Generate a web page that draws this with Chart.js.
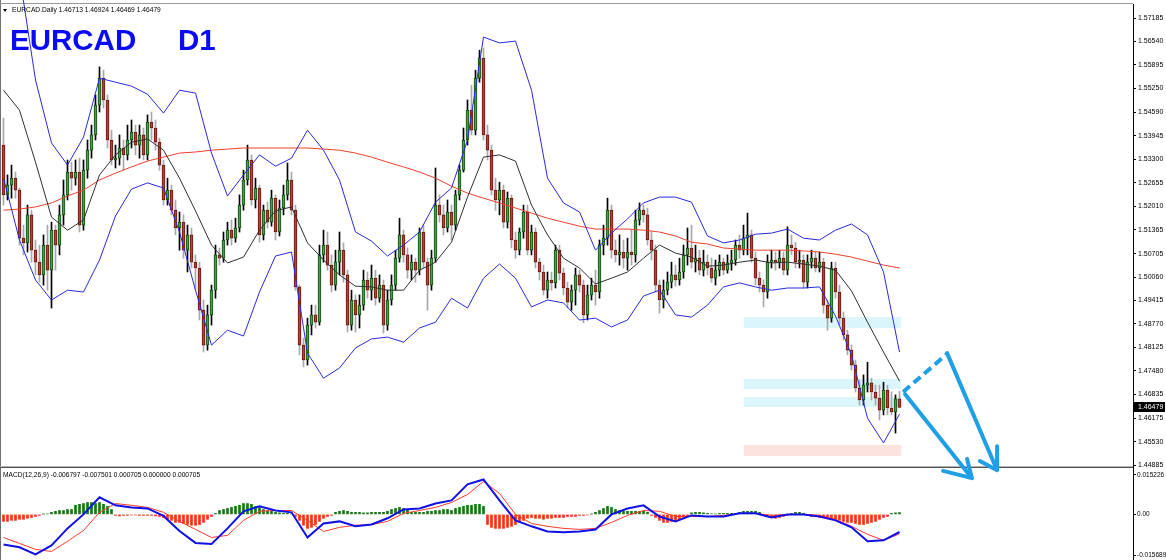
<!DOCTYPE html>
<html><head><meta charset="utf-8">
<script src="https://cdn.jsdelivr.net/npm/chart.js@4.4.1/dist/chart.umd.min.js"></script>
<style>
html,body{margin:0;padding:0;background:#fff;}
#wrap{position:relative;width:1166px;height:560px;overflow:hidden;background:#fff;}
#c{position:absolute;left:0;top:0;}
.t{position:absolute;white-space:nowrap;font-family:"Liberation Sans",Arial,sans-serif;color:#000;line-height:1;transform-origin:0 0;}
.title{font-weight:bold;color:#0a0af5;font-size:29.5px;top:25px;}
#tri{position:absolute;left:3px;top:9px;width:0;height:0;border-left:2.5px solid transparent;border-right:2.5px solid transparent;border-top:3px solid #000;}
</style></head><body>
<div id="wrap">
<canvas id="c" width="1166" height="560"></canvas>
<div id="tri"></div>
<div class="t" id="hdr" style="left:12px;top:6.3px;font-size:7.5px;transform:scaleX(0.89)"></div>
<div class="t title" style="left:10px">EURCAD</div>
<div class="t title" style="left:178px">D1</div>
<div class="t" id="macdLbl" style="left:3px;top:471px;font-size:7.5px;transform:scaleX(0.88)"></div>
</div>
<script>
const symbolName = 'EURCAD.Daily';
const priceTicks = [1.57185,1.56540,1.55895,1.55250,1.54590,1.53945,1.53300,1.52655,1.52010,1.51365,1.50705,1.50060,1.49415,1.48770,1.48125,1.47480,1.46835,1.46175,1.45530,1.44885];
const macdTicks = [0.015226, 0, -0.015689];
const macdTickLabels = ['0.015226','0.00','-0.015689'];

const candleOpen = [1.5369,1.5232,1.5259,1.5278,1.5245,1.5113,1.5100,1.5177,1.5080,1.5047,1.5012,1.5094,1.5025,1.5135,1.5094,1.5177,1.5232,1.5295,1.5278,1.5295,
1.5149,1.5300,1.5355,1.5397,1.5479,1.5553,1.5493,1.5383,1.5328,1.5333,1.5361,1.5342,1.5383,1.5405,1.5369,1.5397,1.5342,1.5432,1.5416,1.5377,
1.5314,1.5218,1.5245,1.5190,1.5141,1.5157,1.5080,1.5122,1.5047,1.5031,1.4915,1.4819,1.4902,1.4970,1.5067,1.5058,1.5108,1.5135,1.5113,1.5141,
1.5204,1.5273,1.5328,1.5218,1.5251,1.5122,1.5190,1.5157,1.5223,1.5130,1.5196,1.5232,1.5273,1.5190,1.4979,1.4819,1.4778,1.4874,1.4902,1.4882,
1.5067,1.5094,1.5039,1.4984,1.5047,1.5080,1.5012,1.4874,1.4943,1.4902,1.4929,1.4998,1.4970,1.5003,1.4948,1.4984,1.4874,1.4943,1.4984,1.5058,
1.5122,1.5067,1.5025,1.5047,1.5025,1.5130,1.5047,1.4984,1.5058,1.5204,1.5177,1.5141,1.5185,1.5149,1.5232,1.5300,1.5383,1.5465,1.5410,1.5553,
1.5608,1.5397,1.5355,1.5245,1.5218,1.5245,1.5157,1.5223,1.5108,1.5080,1.5130,1.5185,1.5080,1.5130,1.5047,1.5020,1.4970,1.4998,1.4990,1.5080,
1.5017,1.4976,1.4937,1.4970,1.5012,1.4984,1.4902,1.4957,1.4984,1.4965,1.5094,1.5113,1.5190,1.5080,1.5067,1.5075,1.5058,1.5075,1.5067,1.5163,
1.5190,1.5177,1.5108,1.5080,1.4984,1.4943,1.4970,1.4992,1.5012,1.4998,1.5020,1.5067,1.5086,1.5047,1.5058,1.5025,1.5047,1.5031,1.5003,1.5025,
1.5047,1.5025,1.5045,1.5053,1.5094,1.5080,1.5113,1.5122,1.5058,1.5003,1.4984,1.4965,1.5047,1.5053,1.5047,1.5058,1.5025,1.5094,1.5086,1.5047,
1.5053,1.4992,1.5047,1.5058,1.5031,1.5047,1.4929,1.4893,1.5031,1.4965,1.4893,1.4847,1.4805,1.4764,1.4701,1.4668,1.4709,1.4715,1.4690,1.4673,
1.4640,1.4695,1.4646,1.4635,1.46713];
const candleHigh = [1.5443,1.5287,1.5314,1.5295,1.5251,1.5149,1.5204,1.5190,1.5108,1.5094,1.5122,1.5149,1.5157,1.5149,1.5204,1.5273,1.5328,1.5322,1.5328,1.5333,
1.5328,1.5383,1.5424,1.5507,1.5584,1.5575,1.5507,1.5410,1.5369,1.5397,1.5383,1.5424,1.5438,1.5424,1.5424,1.5416,1.5452,1.5460,1.5438,1.5388,
1.5328,1.5278,1.5259,1.5218,1.5185,1.5177,1.5149,1.5141,1.5067,1.5047,1.4943,1.4929,1.4984,1.5094,1.5086,1.5130,1.5157,1.5163,1.5168,1.5232,
1.5300,1.5369,1.5342,1.5278,1.5259,1.5204,1.5212,1.5245,1.5232,1.5218,1.5259,1.5320,1.5295,1.5204,1.4984,1.4838,1.4893,1.4929,1.4929,1.5094,
1.5135,1.5130,1.5067,1.5080,1.5130,1.5100,1.5025,1.4970,1.4957,1.4957,1.5025,1.5020,1.5039,1.5025,1.5012,1.4998,1.4970,1.5012,1.5080,1.5168,
1.5135,1.5086,1.5067,1.5058,1.5141,1.5149,1.5058,1.5080,1.5306,1.5232,1.5204,1.5218,1.5204,1.5245,1.5314,1.5416,1.5493,1.5534,1.5575,1.5630,
1.5636,1.5424,1.5369,1.5278,1.5267,1.5259,1.5240,1.5232,1.5130,1.5141,1.5204,1.5204,1.5149,1.5141,1.5058,1.5039,1.5020,1.5020,1.5094,1.5094,
1.5031,1.4992,1.4984,1.5031,1.5025,1.4998,1.4984,1.5003,1.5025,1.5108,1.5149,1.5223,1.5204,1.5108,1.5122,1.5108,1.5113,1.5135,1.5190,1.5210,
1.5204,1.5196,1.5130,1.5094,1.4998,1.4998,1.5020,1.5047,1.5039,1.5058,1.5094,1.5141,1.5149,1.5094,1.5080,1.5080,1.5067,1.5058,1.5053,1.5067,
1.5058,1.5067,1.5080,1.5108,1.5122,1.5149,1.5182,1.5135,1.5075,1.5020,1.4998,1.5067,1.5080,1.5075,1.5080,1.5075,1.5144,1.5122,1.5102,1.5080,
1.5067,1.5067,1.5080,1.5075,1.5075,1.5058,1.4943,1.5047,1.5047,1.4984,1.4910,1.4860,1.4819,1.4778,1.4723,1.4737,1.4772,1.4728,1.4709,1.4709,
1.4717,1.4709,1.4690,1.4682,1.46924];
const candleLow = [1.5204,1.5218,1.5223,1.5223,1.5094,1.5067,1.5075,1.5047,1.5012,1.4992,1.4984,1.4970,1.4921,1.5025,1.5067,1.5149,1.5218,1.5245,1.5259,1.5130,
1.5135,1.5278,1.5333,1.5383,1.5460,1.5471,1.5361,1.5314,1.5306,1.5314,1.5300,1.5328,1.5361,1.5342,1.5333,1.5328,1.5328,1.5383,1.5355,1.5300,
1.5204,1.5204,1.5177,1.5122,1.5080,1.5058,1.5020,1.5031,1.4970,1.4888,1.4800,1.4805,1.4874,1.4948,1.5039,1.5047,1.5094,1.5094,1.5102,1.5130,
1.5190,1.5259,1.5204,1.5196,1.5102,1.5108,1.5141,1.5146,1.5108,1.5119,1.5177,1.5218,1.5177,1.4970,1.4792,1.4759,1.4764,1.4847,1.4866,1.4874,
1.5047,1.5025,1.4965,1.4970,1.5012,1.4992,1.4855,1.4860,1.4855,1.4866,1.4915,1.4948,1.4943,1.4929,1.4937,1.4852,1.4860,1.4929,1.4970,1.5047,
1.5047,1.5003,1.4998,1.4992,1.5012,1.5031,1.4915,1.4970,1.5047,1.5157,1.5122,1.5130,1.5108,1.5135,1.5218,1.5295,1.5369,1.5397,1.5397,1.5542,
1.5383,1.5328,1.5232,1.5190,1.5177,1.5141,1.5141,1.5086,1.5058,1.5067,1.5113,1.5067,1.5067,1.5031,1.4998,1.4957,1.4948,1.4970,1.4976,1.4998,
1.4957,1.4921,1.4915,1.4929,1.4965,1.4880,1.4888,1.4943,1.4929,1.4948,1.5067,1.5094,1.5058,1.5047,1.5039,1.5031,1.5025,1.5039,1.5047,1.5149,
1.5157,1.5094,1.5053,1.4965,1.4907,1.4921,1.4957,1.4976,1.4981,1.4984,1.5003,1.5039,1.5031,1.5020,1.5012,1.5009,1.5012,1.4992,1.4984,1.5009,
1.5012,1.5017,1.5025,1.5039,1.5058,1.5067,1.5067,1.5047,1.4984,1.4965,1.4924,1.4948,1.5031,1.5025,1.5031,1.5012,1.5012,1.5067,1.5031,1.5031,
1.4976,1.4976,1.5031,1.5020,1.5020,1.4907,1.4860,1.4882,1.4948,1.4874,1.4833,1.4792,1.4750,1.4690,1.4654,1.4654,1.4690,1.4668,1.4654,1.4613,
1.4627,1.4627,1.4627,1.4577,1.46469];
const candleClose = [1.5232,1.5259,1.5278,1.5245,1.5113,1.5100,1.5177,1.5080,1.5047,1.5012,1.5094,1.5025,1.5135,1.5094,1.5177,1.5232,1.5295,1.5278,1.5295,1.5149,
1.5300,1.5355,1.5397,1.5479,1.5553,1.5493,1.5383,1.5328,1.5333,1.5361,1.5342,1.5383,1.5405,1.5369,1.5397,1.5342,1.5432,1.5416,1.5377,1.5314,
1.5218,1.5245,1.5190,1.5141,1.5157,1.5080,1.5122,1.5047,1.5031,1.4915,1.4819,1.4902,1.4970,1.5067,1.5058,1.5108,1.5135,1.5113,1.5141,1.5204,
1.5273,1.5328,1.5218,1.5251,1.5122,1.5190,1.5157,1.5223,1.5130,1.5196,1.5232,1.5273,1.5190,1.4979,1.4819,1.4778,1.4874,1.4902,1.4882,1.5067,
1.5094,1.5039,1.4984,1.5047,1.5080,1.5012,1.4874,1.4943,1.4902,1.4929,1.4998,1.4970,1.5003,1.4948,1.4984,1.4874,1.4943,1.4984,1.5058,1.5122,
1.5067,1.5025,1.5047,1.5025,1.5130,1.5047,1.4984,1.5058,1.5204,1.5177,1.5141,1.5185,1.5149,1.5232,1.5300,1.5383,1.5465,1.5410,1.5553,1.5608,
1.5397,1.5355,1.5245,1.5218,1.5245,1.5157,1.5223,1.5108,1.5080,1.5130,1.5185,1.5080,1.5130,1.5047,1.5020,1.4970,1.4998,1.4990,1.5080,1.5017,
1.4976,1.4937,1.4970,1.5012,1.4984,1.4902,1.4957,1.4984,1.4965,1.5094,1.5113,1.5190,1.5080,1.5067,1.5075,1.5058,1.5075,1.5067,1.5163,1.5190,
1.5177,1.5108,1.5080,1.4984,1.4943,1.4970,1.4992,1.5012,1.4998,1.5020,1.5067,1.5086,1.5047,1.5058,1.5025,1.5047,1.5031,1.5003,1.5025,1.5047,
1.5025,1.5045,1.5053,1.5094,1.5080,1.5113,1.5122,1.5058,1.5003,1.4984,1.4965,1.5047,1.5053,1.5047,1.5058,1.5025,1.5094,1.5086,1.5047,1.5053,
1.4992,1.5047,1.5058,1.5031,1.5047,1.4929,1.4893,1.5031,1.4965,1.4893,1.4847,1.4805,1.4764,1.4701,1.4668,1.4709,1.4715,1.4690,1.4673,1.4640,
1.4695,1.4646,1.4635,1.4671,1.46479];

// Bollinger Bands (20) and long moving average, read every 4th bar
const bandUpper = [1.5988,1.5837,1.5548,1.5375,1.5314,1.5391,1.5553,1.5542,1.5531,1.5509,1.5457,1.5520,1.5512,1.5347,1.5229,1.5287,1.5342,1.5311,1.5333,1.5410,
1.5355,1.5273,1.5130,1.5105,1.5064,1.5094,1.5130,1.5212,1.5251,1.5383,1.5666,1.5650,1.5655,1.5520,1.5278,1.5210,1.5185,1.5080,1.5127,1.5166,
1.5210,1.5226,1.5226,1.5212,1.5119,1.5100,1.5108,1.5124,1.5127,1.5138,1.5113,1.5108,1.5135,1.5152,1.5122,1.5020,1.4800];
const bandMiddle = [1.5520,1.5465,1.5322,1.5171,1.5135,1.5163,1.5287,1.5342,1.5377,1.5386,1.5355,1.5278,1.5188,1.5094,1.5045,1.5061,1.5135,1.5188,1.5199,1.5100,
1.5053,1.5012,1.4981,1.4979,1.4970,1.4970,1.5025,1.5047,1.5102,1.5226,1.5336,1.5342,1.5325,1.5204,1.5122,1.5058,1.5031,1.4987,1.5003,1.5020,
1.5058,1.5094,1.5072,1.5061,1.5036,1.5039,1.5047,1.5053,1.5045,1.5047,1.5042,1.5036,1.5025,1.4968,1.4882,1.4800,1.4720];
const bandLower = [1.5278,1.5108,1.4998,1.4943,1.4970,1.4965,1.5053,1.5174,1.5248,1.5265,1.5251,1.5130,1.4970,1.4819,1.4860,1.4844,1.4965,1.5064,1.5075,1.4797,
1.4728,1.4756,1.4811,1.4836,1.4841,1.4827,1.4866,1.4882,1.4948,1.4921,1.5003,1.5042,1.5003,1.4924,1.4943,1.4935,1.4888,1.4893,1.4869,1.4888,
1.4954,1.4970,1.4902,1.4896,1.4929,1.4979,1.4990,1.4979,1.4970,1.4976,1.4976,1.4979,1.4899,1.4792,1.4618,1.4550,1.4629];
const maLong = [1.5190,1.5193,1.5199,1.5210,1.5229,1.5245,1.5273,1.5292,1.5309,1.5325,1.5336,1.5347,1.5350,1.5355,1.5358,1.5361,1.5361,1.5361,1.5361,1.5361,
1.5358,1.5355,1.5347,1.5336,1.5322,1.5309,1.5295,1.5278,1.5256,1.5237,1.5223,1.5210,1.5196,1.5182,1.5168,1.5157,1.5146,1.5138,1.5138,1.5138,
1.5135,1.5130,1.5119,1.5102,1.5097,1.5086,1.5083,1.5080,1.5080,1.5080,1.5078,1.5075,1.5069,1.5061,1.5050,1.5039,1.5031];

// MACD(12,26,9), lines read every 4th bar, histogram per bar
const macdMain = [-0.0116,-0.0127,-0.0154,-0.0120,-0.0054,0.0000,0.0066,0.0035,0.0027,0.0023,-0.0006,-0.0064,-0.0110,-0.0114,-0.0054,0.0012,0.0031,0.0015,0.0008,-0.0089,
-0.0035,-0.0027,-0.0046,-0.0039,-0.0015,0.0019,0.0023,0.0042,0.0054,0.0116,0.0135,0.0054,-0.0023,-0.0046,-0.0066,-0.0069,-0.0066,-0.0058,0.0000,0.0023,
0.0035,-0.0008,-0.0027,-0.0004,-0.0008,-0.0008,0.0004,0.0004,-0.0012,0.0000,0.0000,-0.0008,-0.0023,-0.0050,-0.0104,-0.0100,-0.006797];
const macdSignal = [-0.0089,-0.0112,-0.0135,-0.0143,-0.0104,-0.0062,0.0008,0.0042,0.0035,0.0027,0.0008,-0.0027,-0.0058,-0.0089,-0.0081,-0.0023,0.0012,0.0015,0.0015,-0.0023,
-0.0066,-0.0050,-0.0042,-0.0039,-0.0027,0.0004,0.0015,0.0027,0.0046,0.0077,0.0127,0.0081,0.0000,-0.0035,-0.0046,-0.0054,-0.0058,-0.0054,-0.0031,-0.0004,
0.0015,0.0012,-0.0008,-0.0008,-0.0008,-0.0004,0.0004,0.0004,-0.0004,0.0000,0.0000,-0.0004,-0.0019,-0.0046,-0.0077,-0.0100,-0.007501];
const macdHist = [-0.0027,-0.0027,-0.0023,-0.0023,-0.0019,-0.0019,-0.0015,-0.0012,-0.0008,-0.0004,0.0001,0.0002,0.0008,0.0012,0.0015,0.0015,0.0019,0.0019,0.0035,0.0039,
0.0042,0.0046,0.0046,0.0042,0.0046,0.0039,0.0031,0.0019,-0.0004,-0.0006,-0.0004,-0.0004,-0.0002,-0.0002,-0.0004,-0.0004,-0.0004,-0.0004,-0.0006,-0.0008,
-0.0012,-0.0019,-0.0023,-0.0031,-0.0031,-0.0035,-0.0039,-0.0042,-0.0042,-0.0039,-0.0031,-0.0019,-0.0008,0.0004,0.0015,0.0019,0.0023,0.0027,0.0031,0.0035,
0.0042,0.0042,0.0039,0.0031,0.0027,0.0019,0.0015,0.0012,0.0008,0.0006,0.0004,0.0004,0.0002,-0.0008,-0.0023,-0.0042,-0.0054,-0.0050,-0.0039,-0.0027,
-0.0015,-0.0008,-0.0004,0.0008,0.0012,0.0015,0.0012,0.0008,0.0008,0.0008,0.0006,0.0006,0.0008,0.0008,0.0008,0.0008,0.0012,0.0019,0.0023,0.0027,
0.0023,0.0019,0.0008,0.0008,0.0008,0.0008,0.0012,0.0012,0.0015,0.0015,0.0019,0.0019,0.0015,0.0023,0.0027,0.0031,0.0035,0.0035,0.0039,0.0039,
0.0031,-0.0039,-0.0050,-0.0054,-0.0054,-0.0054,-0.0050,-0.0046,-0.0039,-0.0031,-0.0023,-0.0015,-0.0012,-0.0015,-0.0015,-0.0019,-0.0015,-0.0015,-0.0012,-0.0012,
-0.0012,-0.0008,-0.0008,-0.0008,-0.0004,-0.0004,-0.0002,0.0001,0.0008,0.0015,0.0023,0.0031,0.0027,0.0019,0.0015,0.0012,0.0012,0.0012,0.0012,0.0012,
0.0012,0.0008,-0.0004,-0.0012,-0.0023,-0.0031,-0.0031,-0.0027,-0.0023,-0.0019,-0.0012,-0.0006,0.0006,0.0008,0.0008,0.0006,0.0004,0.0002,0.0002,0.0004,
0.0004,0.0004,0.0004,0.0004,0.0008,0.0012,0.0012,0.0012,0.0012,0.0008,-0.0004,-0.0008,-0.0012,-0.0015,-0.0012,-0.0008,-0.0004,0.0004,0.0008,0.0008,
0.0004,-0.0004,-0.0008,-0.0008,-0.0012,-0.0012,-0.0015,-0.0019,-0.0023,-0.0023,-0.0027,-0.0031,-0.0031,-0.0035,-0.0039,-0.0039,-0.0035,-0.0031,-0.0027,-0.0019,
-0.0012,-0.0008,0.0004,0.0006,0.000705];

// Drawn objects: support / target zones and projected path (bar index, price)
const zoneFrom = 185, zoneTo = 224.5;
const zoneTop = [1.4896, 1.4726, 1.4676, 1.4544];
const zoneBottom = [1.4866, 1.4698, 1.4649, 1.4514];
const dashIdx = [224.9, 235.9];
const dashPrice = [1.4690, 1.4795];
const arrowAIdx = [225.4, 242.1, 234.9, 242.1, 240.9];
const arrowAPrice = [1.4684, 1.4453, 1.4473, 1.4453, 1.4506];
const arrowBIdx = [235.9, 248.4, 244.1, 248.4, 248.4];
const arrowBPrice = [1.4797, 1.4475, 1.4500, 1.4475, 1.4541];

// ---------- build ----------
const n = candleClose.length;
const barIdx = Array.from({length:n}, (_, i) => i);
const lineIdx = Array.from({length:bandUpper.length}, (_, k) => k*4);
const last = n-1;
const f5 = v => v.toFixed(5);
document.getElementById('hdr').textContent = symbolName + '  ' + [candleOpen[last],candleHigh[last],candleLow[last],candleClose[last]].map(f5).join(' ');
const hl = macdHist[macdHist.length-1];
document.getElementById('macdLbl').textContent = 'MACD(12,26,9) ' + macdMain[macdMain.length-1].toFixed(6) + ' ' + macdSignal[macdSignal.length-1].toFixed(6) + ' ' + (hl>0?hl:0).toFixed(6) + ' ' + (hl<0?-hl:0).toFixed(6) + ' ' + hl.toFixed(6);

const isBull = barIdx.map(i => candleClose[i] >= candleOpen[i]);
const pts = (xs, ys) => xs.map((x, k) => ({x, y: ys[k]}));
const lineDs = (data, color, width, order, extra) => Object.assign({type:'line', data, borderColor:color, borderWidth:width, pointRadius:0, tension:0, fill:false, yAxisID:'y', order}, extra||{});

const datasets = [];
zoneTop.forEach((t, k) => {
  const col = k < 3 ? '#dbf6fb' : '#fde3df';
  datasets.push({type:'line', data: pts([zoneFrom, zoneTo],[t,t]), borderWidth:0, pointRadius:0, backgroundColor:col, fill:'+1', yAxisID:'y', order:30});
  datasets.push({type:'line', data: pts([zoneFrom, zoneTo],[zoneBottom[k],zoneBottom[k]]), borderWidth:0, pointRadius:0, fill:false, yAxisID:'y', order:30});
});
datasets.push({type:'bar', data: barIdx.map(i => ({x:i, y:[candleLow[i], candleHigh[i]]})), backgroundColor: isBull.map(b => b ? '#000000' : '#a8a8a8'), borderWidth:0, barThickness:1, grouped:false, yAxisID:'y', order:12});
datasets.push({type:'bar', data: barIdx.map(i => ({x:i, y:[candleOpen[i], candleClose[i]]})), backgroundColor: isBull.map(b => b ? '#4a9f4a' : '#a84a38'), borderColor: isBull.map(b => b ? '#0c4f0c' : '#6e1208'), borderWidth:1, borderSkipped:false, barThickness:3, grouped:false, yAxisID:'y', order:11});
datasets.push(lineDs(pts(lineIdx, maLong), '#f0402c', 1, 6));
datasets.push(lineDs(pts(lineIdx, bandUpper), '#2a2ae0', 1, 5, {clip:{left:0, top:4, right:0, bottom:0}}));
datasets.push(lineDs(pts(lineIdx, bandLower), '#2a2ae0', 1, 5));
datasets.push(lineDs(pts(lineIdx, bandMiddle), '#303030', 1, 5));
datasets.push({type:'bar', data: barIdx.map(i => ({x:i, y:macdHist[i]})), backgroundColor: macdHist.map(v => v >= 0 ? '#127a12' : '#ff3010'), borderWidth:0, barThickness:2, grouped:false, yAxisID:'y2', order:10});
datasets.push(Object.assign(lineDs(pts(lineIdx, macdSignal), '#ff3a2a', 1, 4), {yAxisID:'y2'}));
datasets.push(Object.assign(lineDs(pts(lineIdx, macdMain), '#1010e8', 2, 3), {yAxisID:'y2'}));
const arrowCol = '#1e9fe6';
datasets.push(lineDs(pts(dashIdx, dashPrice), arrowCol, 4, 1, {borderDash:[9,5], clip:false}));
datasets.push(lineDs(pts(arrowAIdx, arrowAPrice), arrowCol, 4, 1, {borderCapStyle:'round', borderJoinStyle:'round', clip:false}));
datasets.push(lineDs(pts(arrowBIdx, arrowBPrice), arrowCol, 4, 1, {borderCapStyle:'round', borderJoinStyle:'round', clip:false}));

const tickFont = {family:'"Liberation Sans", Arial, sans-serif', size:7};
const macdTickFont = {family:'"Liberation Sans", Arial, sans-serif', size:6.5};
const axisCommon = {
  type:'linear', position:'right', stack:'panes',
  grid:{drawOnChartArea:false, drawTicks:true, tickLength:3, color:'#000', tickColor:'#000'},
  border:{display:true, color:'#000', width:1},
  afterFit: s => { s.width = 33; s.paddingTop = 0; s.paddingBottom = 0; }
};

const framePlugin = {
  id:'frame',
  beforeDraw(chart){ const c=chart.ctx; c.save(); c.fillStyle='#fff'; c.fillRect(0,0,chart.width,chart.height); c.restore(); },
  beforeDatasetsDraw(chart){
    const c = chart.ctx, a = chart.chartArea, yS = chart.scales.y;
    c.save();
    c.fillStyle='#707070'; c.fillRect(0,0,1,chart.height);
    c.fillStyle='#9a9a9a'; c.fillRect(0,3,a.right,1);
    const sep = Math.round(yS.bottom);
    c.fillStyle='#b4b4b4'; c.fillRect(0, sep-1, a.right, 1);
    c.fillStyle='#505050'; c.fillRect(0, sep, a.right, 1);
    c.restore();
  },
  afterDraw(chart){
    const c = chart.ctx, a = chart.chartArea, yS = chart.scales.y;
    const v = candleClose[last];
    const py = Math.round(yS.getPixelForValue(v));
    c.save();
    c.fillStyle='#000'; c.fillRect(a.right, py-5, 32, 10);
    c.fillStyle='#fff'; c.font='7px "Liberation Sans", Arial, sans-serif'; c.textBaseline='middle'; c.textAlign='left';
    c.fillText(f5(v), a.right+5, py);
    c.restore();
  }
};

new Chart(document.getElementById('c'), {
  type:'bar',
  data:{datasets},
  plugins:[framePlugin],
  options:{
    responsive:false, animation:false, devicePixelRatio:1, events:[],
    layout:{padding:{left:1, top:4, right:0, bottom:0}},
    plugins:{legend:{display:false}, tooltip:{enabled:false}},
    scales:{
      x:{type:'linear', min:-0.625, max:282.375, offset:false, display:false, grid:{display:false}},
      y:Object.assign({}, axisCommon, {
        stackWeight:463, min:1.448375, max:1.5757,
        afterBuildTicks: s => { s.ticks = priceTicks.map(v => ({value:v})); },
        ticks:{autoSkip:false, maxRotation:0, padding:2, color:'#000', font:tickFont, callback: v => Number(v).toFixed(5)}
      }),
      y2:Object.assign({}, axisCommon, {
        stackWeight:93, min:-0.017602, max:0.018296,
        afterBuildTicks: s => { s.ticks = macdTicks.map(v => ({value:v})); },
        ticks:{autoSkip:false, maxRotation:0, padding:1, color:'#000', font:macdTickFont, callback: (v, i) => macdTickLabels[i]}
      })
    }
  }
});
</script>
</body></html>
